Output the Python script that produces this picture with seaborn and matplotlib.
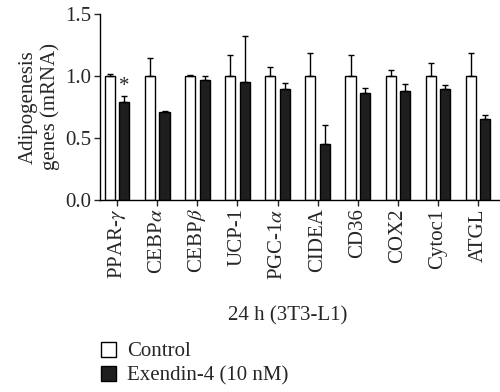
import matplotlib
matplotlib.use("Agg")
import matplotlib.pyplot as plt
import pandas as pd
import seaborn as sns

genes = ["PPAR-$\\gamma$", "CEBP$\\alpha$", "CEBP$\\beta$", "UCP-1", "PGC-1$\\alpha$",
         "CIDEA", "CD36", "COX2", "Cytoc1", "ATGL"]
control = [1.0, 1.0, 1.0, 1.0, 1.0, 1.0, 1.0, 1.0, 1.0, 1.0]
control_err = [0.015, 0.14, 0.01, 0.17, 0.07, 0.18, 0.17, 0.05, 0.10, 0.18]
exendin = [0.79, 0.71, 0.97, 0.95, 0.895, 0.45, 0.86, 0.88, 0.895, 0.65]
exendin_err = [0.05, 0.005, 0.03, 0.37, 0.045, 0.15, 0.04, 0.055, 0.03, 0.035]
groups = ["Control", "Exendin-4 (10 nM)"]

df = pd.DataFrame({
    "gene": genes * 2,
    "value": control + exendin,
    "err": control_err + exendin_err,
    "group": [groups[0]] * len(genes) + [groups[1]] * len(genes),
})

sns.set_theme(style="ticks")
plt.rcParams["font.family"] = ["Liberation Serif", "DejaVu Serif"]
plt.rcParams["mathtext.fontset"] = "stix"
fs = 15

fig = plt.figure(figsize=(5, 3.92), dpi=100)
ax = fig.add_axes([0.2, 0.49, 0.8, 0.475])
sns.barplot(data=df, x="gene", y="value", hue="group", order=genes, hue_order=groups,
            palette=["white", "#1e1e1e"], edgecolor="black", linewidth=1.0,
            width=0.72, gap=0.3, ax=ax, legend=True)

# upward-only error bars at each bar's centre
bars = [p for p in ax.patches if p.get_height() > 0][:2 * len(genes)]
for i, p in enumerate(bars):
    gi = i % len(genes)
    err = control_err[gi] if i < len(genes) else exendin_err[gi]
    xc = p.get_x() + p.get_width() / 2
    ax.errorbar(xc, p.get_height(), yerr=[[0], [err]], fmt="none", ecolor="black",
                elinewidth=1.0, capsize=2.5, capthick=1.0)
    if i == len(genes):
        ax.text(xc, p.get_height() + err, "*", ha="center", va="bottom", fontsize=15)

ax.set_ylim(0, 1.5)
ax.set_yticks([0, 0.5, 1.0, 1.5])
ax.set_yticklabels(["0.0", "0.5", "1.0", "1.5"])
ax.set_xlim(-0.43, 9.55)
ax.set_ylabel("Adipogenesis\ngenes (mRNA)", fontsize=fs, labelpad=4, linespacing=1.15)
ax.set_xlabel("24 h (3T3-L1)", fontsize=fs)
ax.xaxis.set_label_coords(0.47, -0.57)
ax.tick_params(axis="x", rotation=90, labelsize=fs, length=4, width=1.0, pad=2)
ax.tick_params(axis="y", labelsize=fs, length=4, width=1.0, pad=2)
for s in ["left", "bottom"]:
    ax.spines[s].set_linewidth(1.0)
    ax.spines[s].set_color("black")
sns.despine(ax=ax)

handles, labels = ax.get_legend_handles_labels()
ax.get_legend().remove()
fig.legend(handles, labels, loc="upper left", bbox_to_anchor=(0.185, 0.15), frameon=False,
           fontsize=fs, handlelength=0.75, handleheight=0.75, handletextpad=0.5,
           labelspacing=0.2, borderaxespad=0)

fig.savefig("out.png", dpi=100)
